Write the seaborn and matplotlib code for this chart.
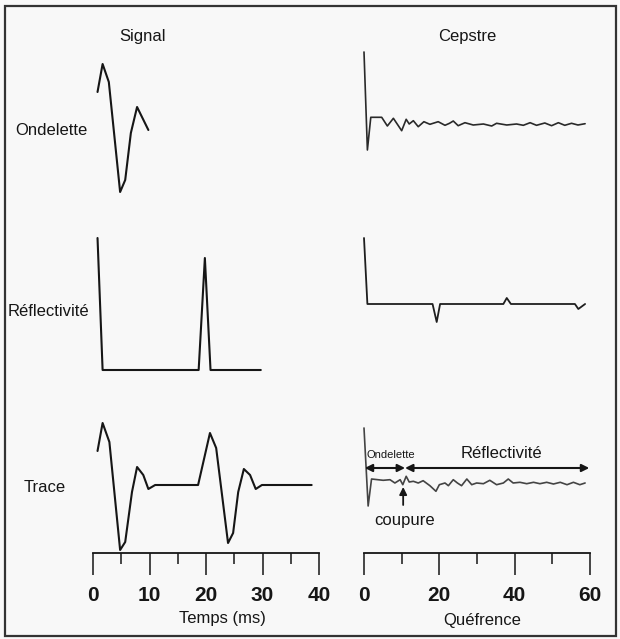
import matplotlib
matplotlib.use('Agg')
import matplotlib.pyplot as plt
from matplotlib.patches import Rectangle
import seaborn as sns

sns.set_style('white')
plt.rcParams['font.family'] = ['Liberation Sans', 'DejaVu Sans']

# ---------------- data (time in ms / quefrency, amplitude arbitrary units) ----------------
ondelette_t = [0.8, 1.7, 2.8, 4.8, 5.7, 6.7, 7.8, 9.8]
ondelette_a = [34, 62, 44, -66, -54, -7, 19, -4]

reflect_t = [0.8, 1.7, 18.7, 19.8, 20.8, 29.7]
reflect_a = [132, 0, 0, 112, 0, 0]

trace_t = [0.8, 1.7, 2.9, 4.8, 5.7, 6.9, 7.8, 8.9, 9.8, 11.0, 18.6, 20.7, 21.8,
           23.9, 24.8, 25.7, 26.7, 27.8, 28.8, 29.9, 38.7]
trace_a = [34, 62, 43, -65, -57, -7, 18, 10, -4, 0, 0, 52, 37,
           -58, -48, -7, 16, 10, -4, 0, 0]

cep_ond_q = [0, 0.9, 1.8, 4.7, 6.2, 7.8, 10.0, 11.2, 12.0, 13.1,
             14.4, 15.9, 17.5, 19.7, 21.5, 22.7, 23.7, 25.0, 26.8, 29.0,
             31.7, 33.9, 35.2, 37.9, 40.5, 42.3, 44.1, 45.8, 48.0, 49.8,
             51.6, 53.3, 55.1, 56.8, 58.7]
cep_ond_a = [72, -26, 6.7, 6.7, -2, 5.7, -6.7, 4.7, 0, 3.3,
             -2.7, 2.3, -0.3, 2.3, -1.3, 0.7, 3, -1.7, 1.3, -1,
             0, -2, 0.7, -1, 0, -1.3, 1.3, -1.3, 1, -1.7,
             1.3, -1.3, 0.7, -1, 0.3]

cep_ref_q = [0, 0.9, 18.2, 19.3, 20.2, 37.0, 37.9, 39.0, 56.0, 56.9, 58.7]
cep_ref_a = [66, 0, 0, -18, 0, 0, 6, 0, 0, -5, 0]

cep_tr_q = [0, 1.1, 2.0, 5.1, 6.9, 8.2, 9.6, 10.3, 11.2, 12.0,
            13.1, 14.4, 15.7, 17.5, 19.1, 20.0, 21.5, 22.4, 23.7, 24.8,
            25.9, 27.3, 28.6, 29.9, 31.7, 33.4, 35.2, 37.0, 38.3, 39.6,
            41.4, 43.2, 45.0, 46.7, 48.5, 50.3, 52.1, 53.9, 55.6, 57.3, 58.7]
cep_tr_a = [55, -23, 4, 2.7, 3.3, 0, 3.3, -1.7, 6.7, 1,
            1.7, 0, 2.3, -2.7, -8.3, -1.7, 0, -2.7, 3.3, 0,
            -2.7, 4, -1.7, 0, -0.7, 2.7, -1.7, 0, 4, 0,
            0.7, -0.7, 0.7, -0.7, 0.7, -1, 0.7, -1.7, 0.7, -1.7, 0]

signal_ticks = [0, 10, 20, 30, 40]
signal_minor = [5, 15, 25, 35]
cep_ticks = [0, 20, 40, 60]
cep_minor = [10, 30, 50]

col_titles = ['Signal', 'Cepstre']
row_labels = ['Ondelette', 'Réflectivité', 'Trace']
xlabels = ['Temps (ms)', 'Quéfrence']

# ---------------- layout ----------------
W, H = 620, 639
BG = '#f8f8f8'
INK = '#161616'
fig = plt.figure(figsize=(W / 100, H / 100), dpi=100, facecolor=BG)

cols = {'L': (93, 319, 40), 'R': (364, 590, 60)}


def px_axes(x0, x1, top, bottom):
    ax = fig.add_axes([x0 / W, 1 - bottom / H, (x1 - x0) / W, (bottom - top) / H])
    ax.set_facecolor('none')
    return ax


def panel(col, top, bottom, baseline, xs, ys, color=INK, lw=1.5):
    x0, x1, xmax = cols[col]
    ax = px_axes(x0, x1, top, bottom)
    ax.set_xlim(0, xmax)
    ax.set_ylim(baseline - bottom, baseline - top)
    ax.set_axis_off()
    sns.lineplot(x=xs, y=ys, ax=ax, sort=False, estimator=None,
                 color=color, lw=lw, clip_on=False)
    return ax


panel('L', 40, 200, 126, ondelette_t, ondelette_a)
panel('R', 40, 200, 124, cep_ond_q, cep_ond_a, color='#2a2a2a', lw=1.2)
panel('L', 225, 390, 370, reflect_t, reflect_a)
panel('R', 225, 390, 304, cep_ref_q, cep_ref_a, color='#1e1e1e', lw=1.3)
panel('L', 405, 552, 485, trace_t, trace_a)
axtr = panel('R', 405, 552, 483, cep_tr_q, cep_tr_a, color='#444444', lw=1.2)


def ruler(col, majors, minors):
    x0, x1, xmax = cols[col]
    ax = px_axes(x0, x1, 530, 553)
    ax.set_xlim(0, xmax)
    for s in ['top', 'left', 'right']:
        ax.spines[s].set_visible(False)
    ax.spines['bottom'].set_color(INK)
    ax.spines['bottom'].set_linewidth(1.3)
    ax.set_yticks([])
    ax.set_xticks(majors)
    ax.set_xticks(minors, minor=True)
    ax.set_xticklabels([str(v) for v in majors], fontsize=15, fontweight='bold')
    ax.tick_params(axis='x', which='both', bottom=True, top=False)
    ax.tick_params(axis='x', which='major', direction='out', length=16,
                   width=1.1, pad=8, color=INK, labelcolor=INK)
    ax.tick_params(axis='x', which='minor', direction='out', length=8,
                   width=1.1, color=INK)
    return ax


ruler('L', signal_ticks, signal_minor)
ruler('R', cep_ticks, cep_minor)


def ftext(x, y, s, size, **kw):
    fig.text(x / W, 1 - y / H, s, ha='center', va='center', fontsize=size,
             color=INK, **kw)


ftext(143, 37, col_titles[0], 12)
ftext(467, 37, col_titles[1], 12)
ftext(51, 130, row_labels[0], 12)
ftext(48, 312, row_labels[1], 12)
ftext(45, 487, row_labels[2], 12)
ftext(222, 619, xlabels[0], 12)
ftext(482, 620, xlabels[1], 12)

# annotations on the trace cepstrum
akw = dict(arrowstyle='<|-|>', color=INK, lw=1.5, mutation_scale=11,
           shrinkA=0, shrinkB=0)
axtr.annotate('', xy=(10.9, 15), xytext=(0.2, 15), arrowprops=akw)
axtr.annotate('', xy=(59.8, 15), xytext=(10.9, 15), arrowprops=akw)
axtr.annotate('', xy=(10.4, -4), xytext=(10.4, -22),
              arrowprops=dict(arrowstyle='-|>', color=INK, lw=1.3,
                              mutation_scale=11, shrinkA=0, shrinkB=0))
axtr.text(7.0, 28, 'Ondelette', fontsize=8, ha='center', va='center', color=INK)
axtr.text(36.6, 30, 'Réflectivité', fontsize=12, ha='center', va='center', color=INK)
axtr.text(10.9, -37, 'coupure', fontsize=12, ha='center', va='center', color=INK)

# frame
fig.patches.append(Rectangle((5 / W, 1 - 636 / H), 611 / W, 630 / H,
                             transform=fig.transFigure, fill=False,
                             edgecolor='#333333', lw=1.6))

fig.savefig('out.png', dpi=100, facecolor=BG)
